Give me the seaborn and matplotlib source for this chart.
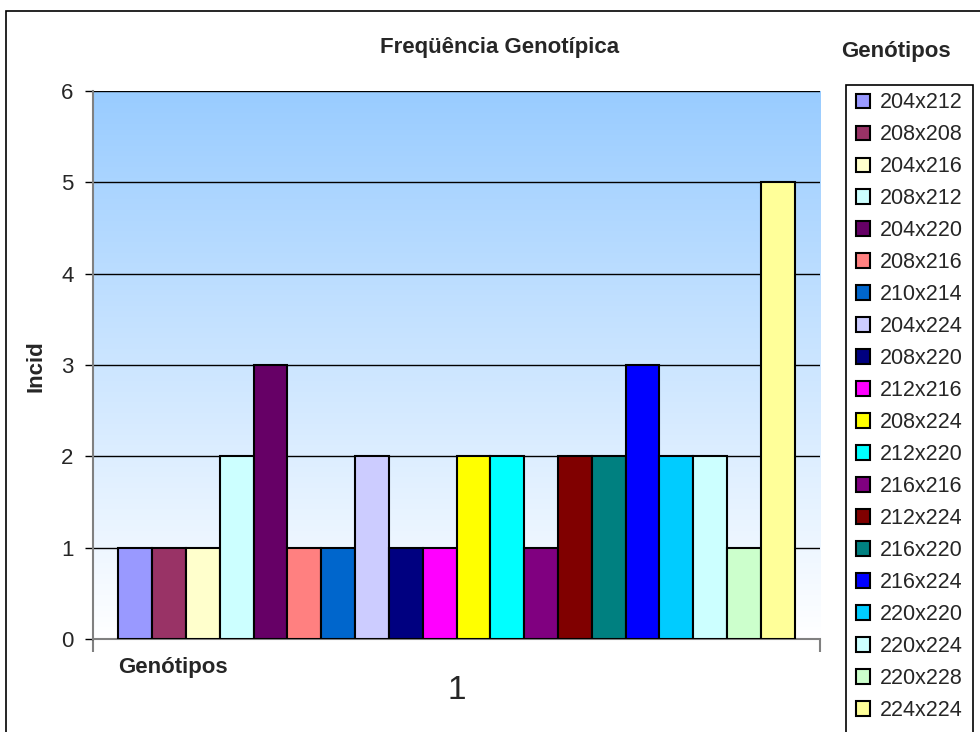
import pandas as pd
import numpy as np
import seaborn as sns
import matplotlib.pyplot as plt
from matplotlib.colors import LinearSegmentedColormap
from matplotlib.patches import Rectangle

genotipos = ["204x212", "208x208", "204x216", "208x212", "204x220",
             "208x216", "210x214", "204x224", "208x220", "212x216",
             "208x224", "212x220", "216x216", "212x224", "216x220",
             "216x224", "220x220", "220x224", "220x228", "224x224"]
incid = [1, 1, 1, 2, 3, 1, 1, 2, 1, 1, 2, 2, 1, 2, 2, 3, 2, 2, 1, 5]
cores = ["#9999FF", "#993366", "#FFFFCC", "#CCFFFF", "#660066",
         "#FF8080", "#0066CC", "#CCCCFF", "#000080", "#FF00FF",
         "#FFFF00", "#00FFFF", "#800080", "#800000", "#008080",
         "#0000FF", "#00CCFF", "#CCFFFF", "#CCFFCC", "#FFFF99"]
categoria = "1"
y_ticks = [0, 1, 2, 3, 4, 5, 6]


def main():
    sns.set_style("white")
    plt.rcParams['font.family'] = ['Liberation Sans', 'DejaVu Sans']

    df = pd.DataFrame({"cat": [categoria] * len(genotipos),
                       "Genótipos": genotipos,
                       "Incid": incid})

    fig = plt.figure(figsize=(9.8, 7.32), dpi=100)
    ax = fig.add_axes([93 / 980, 93 / 732, 727 / 980, 548 / 732])

    sns.barplot(data=df, x="cat", y="Incid", hue="Genótipos",
                hue_order=genotipos, palette=dict(zip(genotipos, cores)),
                width=0.93, gap=0, saturation=1, edgecolor='black',
                linewidth=1.5, ax=ax, zorder=3)

    # fundo em degrade, azul em cima e branco embaixo
    fundo = LinearSegmentedColormap.from_list("fundo", ["white", "#99CCFF"])
    ax.imshow(np.linspace(0, 1, 256).reshape(-1, 1), cmap=fundo, origin='lower',
              extent=[-0.5, 0.5, 0, 6], aspect='auto', zorder=0)
    for v in y_ticks[1:]:
        ax.axhline(v, color='black', lw=1, zorder=1)

    ax.set_xlim(-0.5, 0.5)
    ax.set_ylim(0, 6)
    ax.set_xlabel("")
    ax.set_ylabel("")

    ax.set_yticks(y_ticks)
    ax.tick_params(axis='y', length=6, width=1, color='black', direction='out',
                   labelsize=16, pad=8, left=True)
    ax.set_xticks([0])
    ax.set_xticklabels([categoria])
    ax.set_xticks([-0.5, 0.5], minor=True)
    ax.tick_params(axis='x', which='major', length=0, labelsize=24, pad=26)
    ax.tick_params(axis='x', which='minor', length=9.5, width=1.5,
                   color='#808080', direction='out', bottom=True)

    for s in ['top', 'right']:
        ax.spines[s].set_visible(False)
    for s in ['left', 'bottom']:
        ax.spines[s].set_color('#808080')
        ax.spines[s].set_linewidth(1.5)

    h, l = ax.get_legend_handles_labels()
    if ax.get_legend() is not None:
        ax.get_legend().remove()
    leg = fig.legend(h, l, loc='upper left', bbox_to_anchor=(852 / 980, 1 - 88 / 732),
                     fontsize=15.5, handlelength=0.65, handleheight=0.65,
                     handletextpad=0.45, labelspacing=0.51, borderpad=0.2,
                     borderaxespad=0, frameon=False)
    for p in leg.get_patches():
        p.set_edgecolor('black')
        p.set_linewidth(1.5)

    # caixa da legenda vai ate a borda de baixo
    fig.patches.append(Rectangle((846 / 980, -0.1), 127 / 980, (732 - 85) / 732 + 0.1,
                                 transform=fig.transFigure, fill=False,
                                 edgecolor='black', linewidth=1.2))

    fig.text(500 / 980, 1 - 48 / 732, "Freqüência Genotípica", ha='center',
             va='center', fontsize=16, fontweight='bold')
    fig.text(896 / 980, 1 - 52 / 732, "Genótipos", ha='center',
             va='center', fontsize=16, fontweight='bold')
    fig.text(118 / 980, 1 - 668 / 732, "Genótipos", ha='left',
             va='center', fontsize=16, fontweight='bold')
    fig.text(36 / 980, 1 - 366 / 732, "Incid", ha='center', va='center',
             rotation=90, fontsize=16, fontweight='bold')

    fig.patches.append(Rectangle((6 / 980, -0.1), 1.2, (732 - 11) / 732 + 0.1,
                                 transform=fig.transFigure, fill=False,
                                 edgecolor='black', linewidth=1.2))

    fig.savefig("out.png", dpi=100)


if __name__ == "__main__":
    main()
